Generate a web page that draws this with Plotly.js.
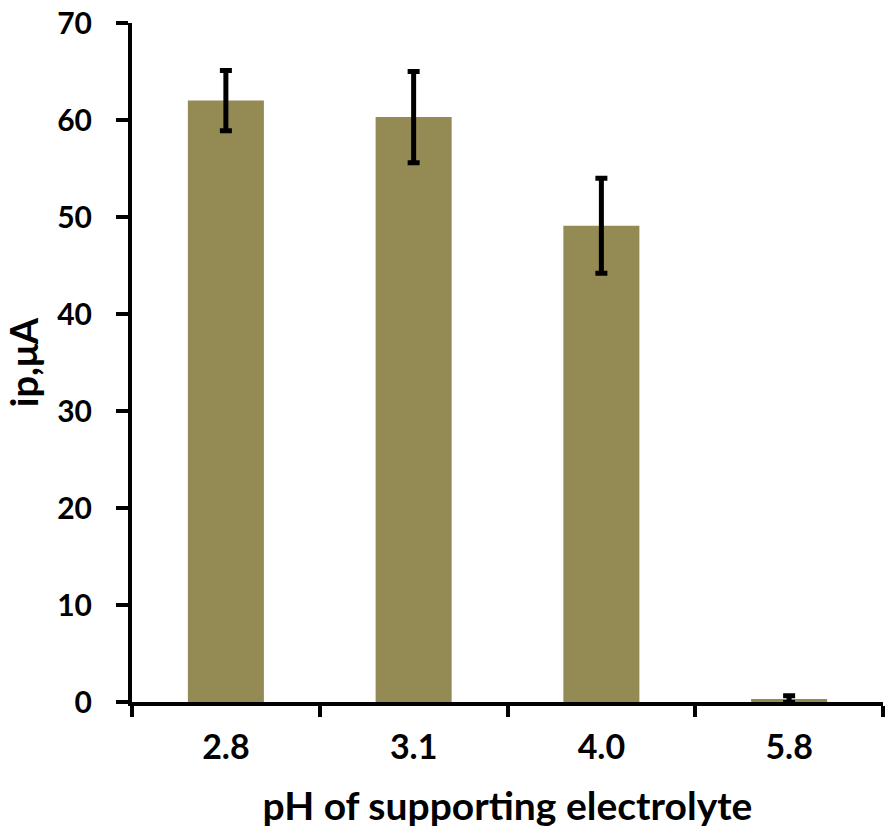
<!DOCTYPE html>
<html>
<head>
<meta charset="utf-8">
<script src="https://cdn.plot.ly/plotly-3.0.1.min.js"></script>
<style>html,body{margin:0;padding:0;background:#fff;}#chart{width:886px;height:834px;}</style>
</head>
<body>
<div id="chart"></div>
<script>
const categories = ["2.8", "3.1", "4.0", "5.8"];
const ipValues = [62.0, 60.3, 49.1, 0.3];
const ipErrors = [3.1, 4.7, 4.9, 0.35];
const yTickValues = [0, 10, 20, 30, 40, 50, 60, 70];

const FONT = "Lato, 'Open Sans', sans-serif";

const trace = {
  type: "bar",
  x: categories,
  y: ipValues,
  marker: {color: "#948A54"},
  error_y: {type: "data", array: ipErrors, visible: true, color: "#000000", thickness: 5, width: 6},
  hoverinfo: "x+y"
};

const layout = {
  width: 886,
  height: 834,
  margin: {l: 132, r: 3, t: 23, b: 132, pad: 0},
  paper_bgcolor: "#ffffff",
  plot_bgcolor: "#ffffff",
  bargap: 0.595,
  showlegend: false,
  font: {family: FONT, color: "#000000", weight: "bold"},
  xaxis: {
    type: "category",
    showline: true, linecolor: "#000000", linewidth: 4,
    ticks: "outside", tickson: "boundaries", ticklen: 11, tickwidth: 4, tickcolor: "#000000",
    showgrid: false, zeroline: false,
    tickfont: {family: FONT, size: 34, color: "#000000", weight: "bold"},
    ticklabelstandoff: 12,
    title: {text: "pH of supporting electrolyte", font: {family: FONT, size: 39, color: "#000000", weight: "bold"}, standoff: 29},
    mirror: false
  },
  yaxis: {
    range: [0, 70],
    tickvals: yTickValues,
    showline: true, linecolor: "#000000", linewidth: 4,
    ticks: "outside", ticklen: 12, tickwidth: 4, tickcolor: "#000000",
    showgrid: false, zeroline: false,
    tickfont: {family: FONT, size: 30, color: "#000000", weight: "bold"},
    ticklabelstandoff: 18,
    title: {text: "ip,μA", font: {family: FONT, size: 38, color: "#000000", weight: "bold"}, standoff: 14}
  }
};

Plotly.newPlot("chart", [trace], layout, {displayModeBar: false, staticPlot: true});
</script>
</body>
</html>
